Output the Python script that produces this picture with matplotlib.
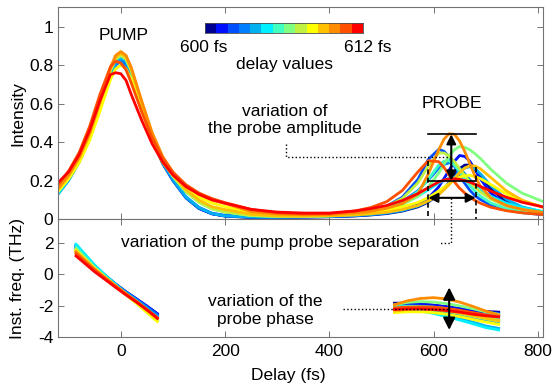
import numpy as np
import matplotlib
matplotlib.use('Agg')
from matplotlib import pyplot as plt
from matplotlib.colors import ListedColormap

plt.rcParams['font.family'] = ['Liberation Sans', 'DejaVu Sans']
plt.rcParams['font.size'] = 12.5
plt.rcParams['axes.unicode_minus'] = False

# colours of the delay values, 600 fs (blue) ... 612 fs (red)
delay_colors = ['#000090', '#0010ff', '#0050ff', '#0080ff', '#00b0f0', '#00f0ff', '#40ffc0',
                '#80ff80', '#c0f040', '#ffff00', '#ffc000', '#ff8c00', '#ff5000', '#ff0000']
delay_labels = ['600 fs', '612 fs']

# intensity, one array per delay value
t_int = [-120, -100, -80, -60, -40, -20, -10, 0, 10, 20, 40, 60, 80, 100,
         125, 150, 175, 200, 250, 300, 350, 400, 450, 480, 510, 540,
         570, 590, 610, 620, 630, 640, 650, 660, 670, 680, 690, 710, 740, 770, 810]
int_00 = [0.14, 0.21, 0.30, 0.42, 0.58, 0.75, 0.81, 0.83, 0.81, 0.75, 0.58, 0.42, 0.29, 0.20,
          0.11, 0.055, 0.027, 0.015, 0.008, 0.008, 0.010, 0.012, 0.016, 0.021, 0.028, 0.041,
          0.063, 0.088, 0.129, 0.158, 0.19, 0.228, 0.262, 0.28, 0.281, 0.262, 0.226, 0.157, 0.088, 0.054, 0.032]
int_01 = [0.145, 0.215, 0.305, 0.425, 0.585, 0.755, 0.80, 0.825, 0.80, 0.755, 0.585, 0.425, 0.295, 0.205,
          0.112, 0.055, 0.027, 0.016, 0.009, 0.009, 0.010, 0.012, 0.017, 0.023, 0.031, 0.046,
          0.074, 0.109, 0.167, 0.21, 0.254, 0.30, 0.33, 0.325, 0.299, 0.255, 0.208, 0.134, 0.074, 0.046, 0.028]
int_02 = [0.14, 0.21, 0.30, 0.42, 0.59, 0.76, 0.82, 0.84, 0.82, 0.76, 0.59, 0.42, 0.295, 0.205,
          0.113, 0.06, 0.03, 0.019, 0.011, 0.011, 0.015, 0.02, 0.031, 0.044, 0.067, 0.113,
          0.206, 0.31, 0.362, 0.352, 0.322, 0.275, 0.223, 0.185, 0.148, 0.12, 0.101, 0.072, 0.046, 0.033, 0.022]
int_03 = [0.135, 0.205, 0.295, 0.415, 0.575, 0.745, 0.80, 0.82, 0.80, 0.745, 0.575, 0.415, 0.29, 0.20,
          0.11, 0.056, 0.028, 0.017, 0.012, 0.012, 0.015, 0.021, 0.031, 0.042, 0.06, 0.091,
          0.147, 0.203, 0.263, 0.283, 0.292, 0.285, 0.263, 0.235, 0.203, 0.175, 0.147, 0.106, 0.068, 0.047, 0.031]
int_04 = [0.13, 0.20, 0.295, 0.42, 0.585, 0.755, 0.815, 0.835, 0.82, 0.765, 0.60, 0.43, 0.30, 0.21,
          0.116, 0.06, 0.029, 0.016, 0.010, 0.009, 0.011, 0.013, 0.018, 0.023, 0.031, 0.044,
          0.067, 0.092, 0.13, 0.155, 0.185, 0.215, 0.246, 0.265, 0.272, 0.258, 0.235, 0.173, 0.102, 0.063, 0.037]
int_05 = [0.135, 0.21, 0.305, 0.43, 0.595, 0.77, 0.83, 0.85, 0.83, 0.77, 0.596, 0.436, 0.312, 0.224,
          0.144, 0.089, 0.056, 0.039, 0.02, 0.016, 0.016, 0.022, 0.031, 0.045, 0.06, 0.083,
          0.119, 0.152, 0.188, 0.20, 0.213, 0.215, 0.212, 0.20, 0.187, 0.17, 0.151, 0.118, 0.082, 0.059, 0.039]
int_06 = [0.153, 0.221, 0.31, 0.434, 0.595, 0.77, 0.83, 0.85, 0.83, 0.77, 0.596, 0.435, 0.311, 0.222,
          0.142, 0.087, 0.053, 0.037, 0.018, 0.014, 0.013, 0.016, 0.025, 0.039, 0.056, 0.084,
          0.142, 0.207, 0.281, 0.30, 0.303, 0.28, 0.246, 0.21, 0.172, 0.143, 0.118, 0.083, 0.053, 0.037, 0.025]
int_07 = [0.155, 0.224, 0.314, 0.439, 0.602, 0.778, 0.84, 0.86, 0.84, 0.778, 0.603, 0.44, 0.315, 0.225,
          0.144, 0.088, 0.054, 0.037, 0.018, 0.014, 0.014, 0.017, 0.026, 0.039, 0.052, 0.075,
          0.117, 0.166, 0.239, 0.285, 0.329, 0.36, 0.377, 0.372, 0.359, 0.338, 0.314, 0.258, 0.186, 0.134, 0.091]
int_08 = [0.15, 0.218, 0.31, 0.434, 0.595, 0.77, 0.83, 0.85, 0.83, 0.77, 0.596, 0.435, 0.311, 0.222,
          0.142, 0.087, 0.053, 0.037, 0.018, 0.014, 0.014, 0.018, 0.029, 0.045, 0.066, 0.106,
          0.188, 0.275, 0.343, 0.343, 0.327, 0.298, 0.261, 0.226, 0.192, 0.165, 0.14, 0.103, 0.069, 0.049, 0.034]
int_09 = [0.144, 0.208, 0.292, 0.408, 0.56, 0.724, 0.78, 0.80, 0.78, 0.725, 0.562, 0.41, 0.294, 0.227,
          0.157, 0.113, 0.083, 0.064, 0.032, 0.023, 0.02, 0.021, 0.028, 0.036, 0.046, 0.063,
          0.086, 0.111, 0.145, 0.165, 0.184, 0.203, 0.218, 0.225, 0.227, 0.22, 0.21, 0.179, 0.13, 0.093, 0.061]
int_10 = [0.155, 0.224, 0.314, 0.439, 0.602, 0.778, 0.84, 0.86, 0.84, 0.78, 0.605, 0.445, 0.322, 0.232,
          0.152, 0.098, 0.064, 0.049, 0.024, 0.016, 0.015, 0.016, 0.021, 0.027, 0.035, 0.049,
          0.07, 0.093, 0.127, 0.152, 0.179, 0.21, 0.241, 0.265, 0.278, 0.275, 0.261, 0.215, 0.146, 0.098, 0.061]
int_11 = [0.16, 0.23, 0.32, 0.445, 0.61, 0.788, 0.85, 0.87, 0.85, 0.788, 0.614, 0.449, 0.326, 0.243,
          0.172, 0.128, 0.098, 0.081, 0.038, 0.026, 0.022, 0.023, 0.032, 0.04, 0.055, 0.08,
          0.13, 0.235, 0.36, 0.415, 0.443, 0.44, 0.405, 0.35, 0.285, 0.22, 0.17, 0.11, 0.07, 0.05, 0.034]
int_12 = [0.18, 0.25, 0.345, 0.48, 0.648, 0.79, 0.82, 0.81, 0.775, 0.707, 0.558, 0.422, 0.318, 0.243,
          0.178, 0.135, 0.106, 0.085, 0.05, 0.032, 0.027, 0.028, 0.042, 0.06, 0.09, 0.148,
          0.245, 0.303, 0.298, 0.268, 0.228, 0.193, 0.16, 0.135, 0.112, 0.096, 0.082, 0.061, 0.043, 0.032, 0.023]
int_13 = [0.19, 0.245, 0.334, 0.46, 0.616, 0.75, 0.76, 0.755, 0.72, 0.647, 0.513, 0.391, 0.297, 0.228,
          0.168, 0.128, 0.10, 0.082, 0.05, 0.036, 0.031, 0.031, 0.042, 0.054, 0.07, 0.096,
          0.132, 0.163, 0.193, 0.202, 0.209, 0.209, 0.206, 0.2, 0.191, 0.18, 0.169, 0.145, 0.113, 0.087, 0.063]
intensity = [int_00, int_01, int_02, int_03, int_04, int_05, int_06,
             int_07, int_08, int_09, int_10, int_11, int_12, int_13]

# instantaneous frequency under the pump
t_fpump = [-86, -70, -50, -30, -10, 10, 30, 50, 70]
fpump_00 = [1.65, 1.10, 0.44, -0.13, -0.65, -1.14, -1.58, -2.04, -2.52]
fpump_01 = [1.70, 1.14, 0.47, -0.11, -0.64, -1.13, -1.58, -2.04, -2.52]
fpump_02 = [1.75, 1.18, 0.50, -0.10, -0.64, -1.14, -1.61, -2.08, -2.57]
fpump_03 = [1.80, 1.22, 0.52, -0.09, -0.64, -1.16, -1.63, -2.12, -2.62]
fpump_04 = [1.85, 1.26, 0.54, -0.08, -0.65, -1.19, -1.68, -2.20, -2.72]
fpump_05 = [1.90, 1.30, 0.56, -0.09, -0.69, -1.27, -1.82, -2.40, -2.97]
fpump_06 = [1.70, 1.14, 0.45, -0.15, -0.72, -1.27, -1.80, -2.36, -2.92]
fpump_07 = [1.60, 1.06, 0.39, -0.19, -0.75, -1.30, -1.83, -2.40, -2.97]
fpump_08 = [1.55, 1.02, 0.37, -0.20, -0.75, -1.29, -1.81, -2.36, -2.92]
fpump_09 = [1.50, 0.98, 0.34, -0.23, -0.78, -1.33, -1.87, -2.44, -3.02]
fpump_10 = [1.45, 0.94, 0.32, -0.23, -0.75, -1.26, -1.76, -2.28, -2.82]
fpump_11 = [1.40, 0.90, 0.29, -0.24, -0.75, -1.25, -1.73, -2.24, -2.77]
fpump_12 = [1.30, 0.82, 0.24, -0.28, -0.78, -1.28, -1.77, -2.28, -2.82]
fpump_13 = [1.15, 0.70, 0.14, -0.35, -0.85, -1.33, -1.78, -2.27, -2.80]
freq_pump = [fpump_00, fpump_01, fpump_02, fpump_03, fpump_04, fpump_05, fpump_06,
             fpump_07, fpump_08, fpump_09, fpump_10, fpump_11, fpump_12, fpump_13]

# instantaneous frequency under the probe
t_fprobe = [525, 550, 575, 600, 625, 650, 675, 700, 725]
fprobe_00 = [-1.85, -1.85, -1.90, -1.98, -2.08, -2.20, -2.30, -2.38, -2.42]
fprobe_01 = [-1.95, -1.90, -1.92, -1.98, -2.08, -2.20, -2.32, -2.42, -2.48]
fprobe_02 = [-2.00, -2.00, -2.05, -2.12, -2.22, -2.35, -2.50, -2.62, -2.70]
fprobe_03 = [-2.05, -2.08, -2.15, -2.25, -2.40, -2.58, -2.78, -2.95, -3.05]
fprobe_04 = [-2.15, -2.20, -2.28, -2.40, -2.58, -2.80, -3.05, -3.30, -3.45]
fprobe_05 = [-2.20, -2.25, -2.35, -2.50, -2.70, -2.92, -3.15, -3.40, -3.55]
fprobe_06 = [-2.10, -2.05, -2.05, -2.10, -2.20, -2.35, -2.55, -2.75, -2.90]
fprobe_07 = [-1.95, -1.80, -1.75, -1.78, -1.88, -2.02, -2.20, -2.40, -2.55]
fprobe_08 = [-2.25, -2.20, -2.20, -2.25, -2.35, -2.50, -2.68, -2.85, -3.00]
fprobe_09 = [-2.45, -2.40, -2.40, -2.45, -2.55, -2.70, -2.88, -3.05, -3.20]
fprobe_10 = [-2.35, -2.25, -2.20, -2.22, -2.30, -2.45, -2.62, -2.80, -2.95]
fprobe_11 = [-1.95, -1.70, -1.55, -1.50, -1.58, -1.78, -2.05, -2.35, -2.60]
fprobe_12 = [-2.15, -2.10, -2.08, -2.10, -2.18, -2.30, -2.45, -2.60, -2.72]
fprobe_13 = [-2.25, -2.22, -2.22, -2.25, -2.32, -2.42, -2.55, -2.65, -2.72]
freq_probe = [fprobe_00, fprobe_01, fprobe_02, fprobe_03, fprobe_04, fprobe_05, fprobe_06,
              fprobe_07, fprobe_08, fprobe_09, fprobe_10, fprobe_11, fprobe_12, fprobe_13]

int_ticks = [0, 0.2, 0.4, 0.6, 0.8, 1]
int_ticklabels = ['0', '0.2', '0.4', '0.6', '0.8', '1']
freq_ticks = [-4, -2, 0, 2]
delay_ticks = [0, 200, 400, 600, 800]

fig = plt.figure(figsize=(5.52, 3.92), dpi=100)
ax1 = fig.add_axes([0.1056, 0.4413, 0.8781, 0.5401])
ax2 = fig.add_axes([0.1056, 0.1403, 0.8781, 0.3010], sharex=ax1)

for c, y in zip(delay_colors, intensity):
    ax1.plot(t_int, y, color=c, lw=2.0, solid_joinstyle='round')
for c, y1, y2 in zip(delay_colors, freq_pump, freq_probe):
    ax2.plot(t_fpump, y1, color=c, lw=2.0)
    ax2.plot(t_fprobe, y2, color=c, lw=2.0)

for ax in (ax1, ax2):
    ax.set_xlim(-120, 810)
    ax.tick_params(direction='in', top=True, right=True, length=4, width=0.7, color='0.45')
    for s in ax.spines.values():
        s.set_color('0.45')
        s.set_linewidth(0.8)

ax1.set_ylim(0, 1.1)
ax1.set_yticks(int_ticks)
ax1.set_yticklabels(int_ticklabels)
ax1.tick_params(labelbottom=False)
ax1.set_ylabel('Intensity')
ax1.yaxis.set_label_coords(-0.068, 0.5)

ax2.set_ylim(-4, 3.5)
ax2.set_yticks(freq_ticks)
ax2.set_xticks(delay_ticks)
ax2.tick_params(axis='x', pad=5)
ax2.set_ylabel('Inst. freq. (THz)')
ax2.yaxis.set_label_coords(-0.068, 0.5)
ax2.set_xlabel('Delay (fs)')
ax2.xaxis.set_label_coords(0.474, -0.26)

# annotations, top panel
ax1.text(5, 0.955, 'PUMP', ha='center', va='center')
ax1.text(636, 0.60, 'PROBE', ha='center', va='center')
ax1.text(315, 0.515, 'variation of\nthe probe amplitude', ha='center', va='center')
ax1.plot([317, 317, 636], [0.39, 0.32, 0.32], 'k:', lw=1)
ax1.plot([590, 681], [0.44, 0.44], 'k-', lw=1.2)
ax1.plot([590, 681], [0.20, 0.20], 'k-', lw=1.2)
ax1.plot([590, 590], [0.30, 0], 'k--', lw=1.2, dashes=(3, 2))
ax1.plot([681, 681], [0.27, 0], 'k--', lw=1.2, dashes=(3, 2))
ax1.plot([634, 634], [0.11, 0], 'k:', lw=1)
arrow = dict(arrowstyle='<|-|>', color='k', lw=1.5, mutation_scale=14, shrinkA=0, shrinkB=0)
ax1.annotate('', xy=(634, 0.20), xytext=(634, 0.44), arrowprops=arrow)
ax1.annotate('', xy=(590, 0.11), xytext=(681, 0.11), arrowprops=arrow)

# annotations, bottom panel
ax2.plot([634, 634, 612], [3.5, 2.0, 2.0], 'k:', lw=1)
ax2.text(286, 2.0, 'variation of the pump probe separation', ha='center', va='center')
ax2.text(278, -2.3, 'variation of the\nprobe phase', ha='center', va='center', linespacing=1.25)
ax2.plot([426, 629], [-2.23, -2.23], 'k:', lw=1)
arrow2 = dict(arrowstyle='<|-|>', color='k', lw=1.5, mutation_scale=18, shrinkA=0, shrinkB=0)
ax2.annotate('', xy=(630, -3.55), xytext=(630, -0.85), arrowprops=arrow2)

# colour bar of the delay values
cax = fig.add_axes([205 / 552, 1 - 32.7 / 392, 158 / 552, 9.4 / 392])
cax.imshow(np.arange(len(delay_colors))[None, :], cmap=ListedColormap(delay_colors), aspect='auto')
cax.set_xticks([])
cax.set_yticks([])
for s in cax.spines.values():
    s.set_color('0.3')
    s.set_linewidth(0.6)
fig.text(204 / 552, 1 - 48 / 392, delay_labels[0], ha='center', va='center')
fig.text(368 / 552, 1 - 48 / 392, delay_labels[1], ha='center', va='center')
fig.text(284 / 552, 1 - 65 / 392, 'delay values', ha='center', va='center')

fig.savefig('out.png', dpi=100)
